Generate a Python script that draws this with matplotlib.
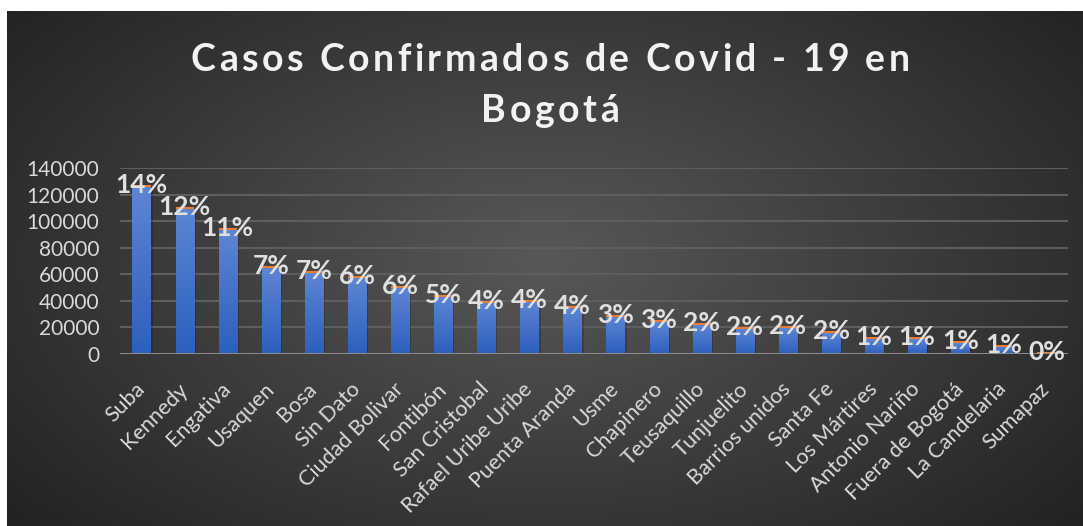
import numpy as np
import matplotlib
matplotlib.use("Agg")
import matplotlib.pyplot as plt
from matplotlib.patches import Rectangle

# data
localidades = ["Suba", "Kennedy", "Engativa", "Usaquen", "Bosa", "Sin Dato",
               "Ciudad Bolivar", "Fontibón", "San Cristobal", "Rafael Uribe Uribe",
               "Puenta Aranda", "Usme", "Chapinero", "Teusaquillo", "Tunjuelito",
               "Barrios unidos", "Santa Fe", "Los Mártires", "Antonio Nariño",
               "Fuera de Bogotá", "La Candelaria", "Sumapaz"]
casos = [125800, 109500, 93700, 64400, 61100, 56900, 49400, 43100, 38600,
         39300, 34400, 28000, 23800, 21800, 18600, 19300, 15600, 11000, 11000,
         8000, 5500, 300]
porcentaje = ["14%", "12%", "11%", "7%", "7%", "6%", "6%", "5%", "4%", "4%",
              "4%", "3%", "3%", "2%", "2%", "2%", "2%", "1%", "1%", "1%", "1%", "0%"]
yticks = [0, 20000, 40000, 60000, 80000, 100000, 120000, 140000]

W, H = 1083, 526
fig = plt.figure(figsize=(W / 100, H / 100), dpi=100)
fig.patch.set_facecolor("white")

# dark radial-gradient background (chart area starts a few px in from top/left)
bg = fig.add_axes([7 / W, 0, 1 - 7 / W, 1 - 11 / H])
bg.axis("off")
yy, xx = np.mgrid[0:1:300j, 0:1:600j]
r = np.sqrt(((xx - 0.5) / 0.62) ** 2 + ((yy - 0.52) / 0.75) ** 2)
shade = np.clip(0.345 - 0.2 * r, 0.14, 0.35)
bg.imshow(np.dstack([shade] * 3), extent=[0, 1, 0, 1], aspect="auto", origin="lower")
bg.set_xlim(0, 1); bg.set_ylim(0, 1)

ax = fig.add_axes([120 / W, 1 - 354 / H, 948 / W, 186 / H])
ax.patch.set_alpha(0)
x = np.arange(len(casos))
for t in yticks[1:]:
    ax.axhline(t, color="#5e5e5e", lw=1.5, zorder=0)
ax.axhline(0, color="#8a8a8a", lw=2.2, zorder=4)

grad = np.linspace(0, 1, 256).reshape(-1, 1)
cmap = matplotlib.colors.LinearSegmentedColormap.from_list("b", ["#2c5fbe", "#5d86d3"])
bars = ax.bar(x, casos, width=0.42, color="#4472c4", zorder=2)
for b in bars:
    bx, by, bw, bh = b.get_x(), b.get_y(), b.get_width(), b.get_height()
    # soft shadow
    ax.add_patch(Rectangle((bx + 0.05, by), bw, bh - 1200, facecolor="black",
                           alpha=0.18, zorder=1, lw=0))
    im = ax.imshow(grad, extent=[bx, bx + bw, by, by + bh], origin="lower",
                   cmap=cmap, aspect="auto", zorder=2)
    im.set_clip_path(b)
ax.set_xlim(-0.5, len(casos) - 0.5)
ax.set_ylim(0, 140000)
# thin orange series on top of each bar
ax.bar(x, 1500, bottom=casos, width=0.42, color="#ed7d31", zorder=3)

for xi, v, p in zip(x, casos, porcentaje):
    ax.text(xi, v + 1500, p, ha="center", va="center", fontsize=19,
            fontweight="bold", family="Lato", color="#e0e0e0", zorder=5,
            clip_on=False)

ax.set_yticks(yticks)
ax.set_yticklabels([str(t) for t in yticks], family="Lato", fontsize=15, color="#d9d9d9")
ax.set_xticks(x)
ax.set_xticklabels(localidades, rotation=45, ha="right", va="center",
                   rotation_mode="anchor", family="Lato", fontsize=15.5, color="#d9d9d9")
ax.tick_params(length=0, axis="both")
ax.tick_params(axis="x", pad=23)
ax.tick_params(axis="y", pad=15)
for s in ax.spines.values():
    s.set_visible(False)


def spaced(fig, xc, yc, s, track, **kw):
    rend = fig.canvas.get_renderer()
    ws = []
    for ch in s:
        t = fig.text(0, 0, ch if ch != " " else "a a", **kw)
        w = t.get_window_extent(rend).width
        if ch == " ":
            t2 = fig.text(0, 0, "aa", **kw)
            w = w - t2.get_window_extent(rend).width
            t2.remove()
        t.remove()
        ws.append(w)
    total = sum(ws) + track * (len(s) - 1)
    px = xc * W - total / 2
    for ch, w in zip(s, ws):
        if ch != " ":
            fig.text(px / W, yc, ch, ha="left", va="center", **kw)
        px += w + track


tkw = dict(fontsize=27, fontweight="bold", family="Lato", color="#f2f2f2")
spaced(fig, 550 / W, 1 - 60 / H, "Casos Confirmados de Covid - 19 en", 3.5, **tkw)
spaced(fig, 550 / W, 1 - 111 / H, "Bogotá", 3.5, **tkw)

fig.savefig("out.png", dpi=100)
